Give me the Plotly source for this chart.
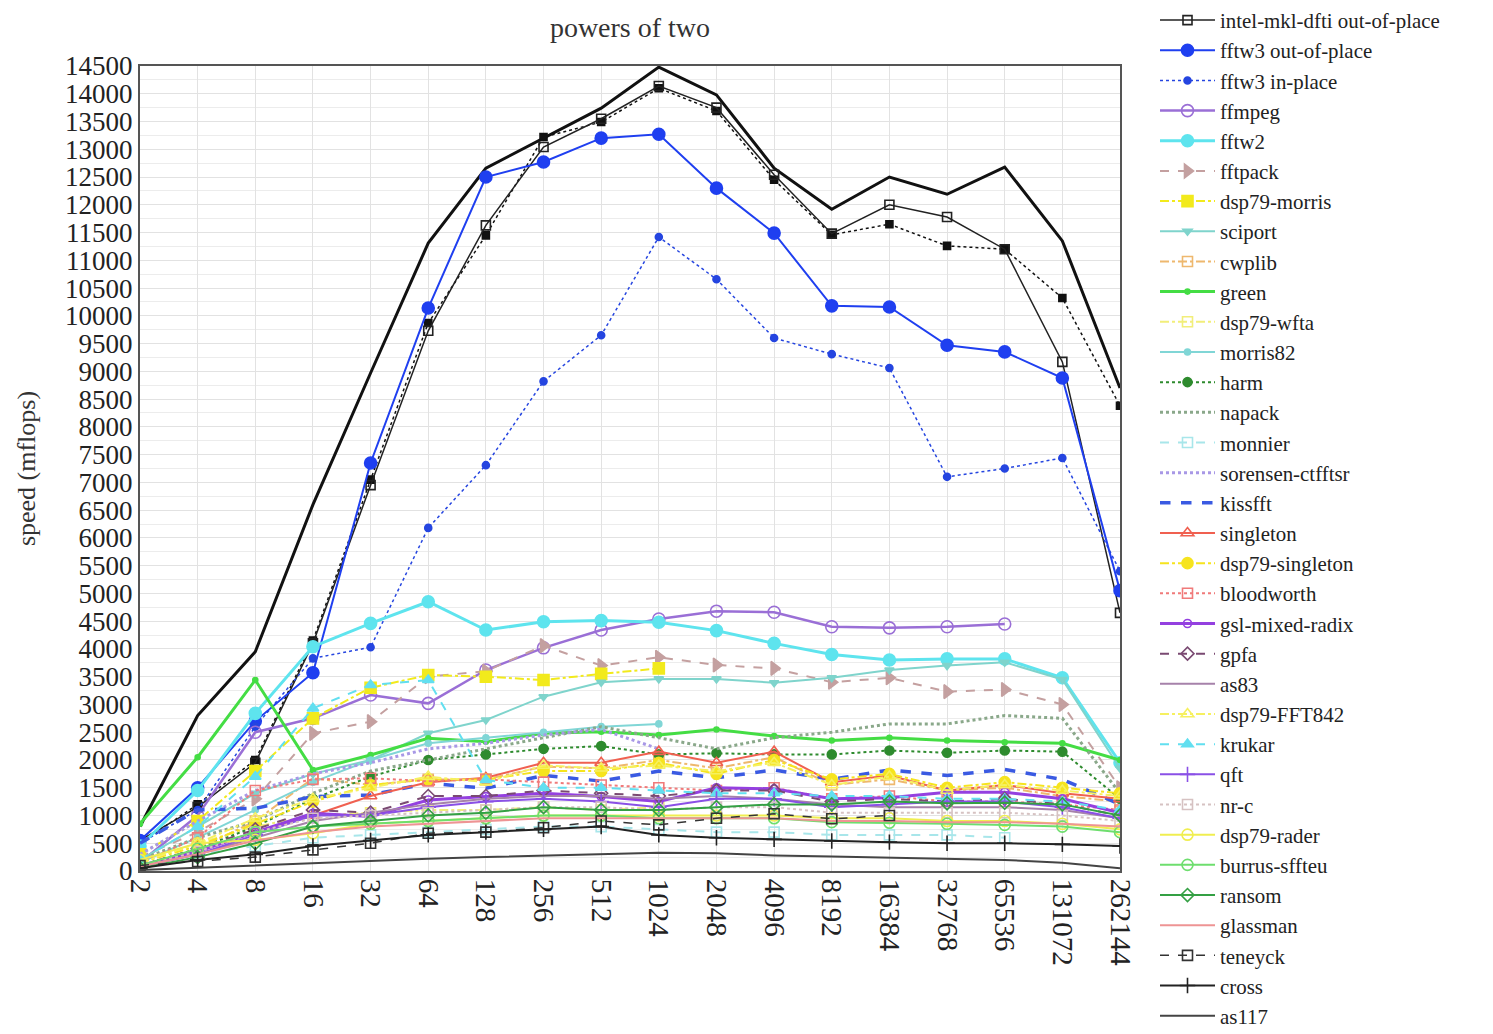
import plotly.graph_objects as go

# FFT sizes (powers of two)
sizes = ["2", "4", "8", "16", "32", "64", "128", "256", "512", "1024", "2048",
         "4096", "8192", "16384", "32768", "65536", "131072", "262144"]

y_ticks = list(range(0, 14501, 500))

# speed in mflops per library
intel_ipps = [800, 2800, 3950, 6600, 8970, 11310, 12660, 13200, 13740, 14480, 13980, 12660, 11920, 12500, 12190, 12680, 11350, 8700]
intel_mkl_in = [500, 1200, 2000, 4150, 7050, 9870, 11450, 13220, 13490, 14100, 13690, 12450, 11460, 11650, 11260, 11200, 10320, 8380]
intel_mkl_out = [550, 1150, 1950, 4100, 6950, 9730, 11630, 13040, 13550, 14140, 13750, 12540, 11480, 12000, 11780, 11200, 9170, 4650]
fftw3_out = [550, 1500, 2700, 3570, 7350, 10140, 12500, 12770, 13200, 13270, 12300, 11490, 10180, 10160, 9470, 9350, 8880, 5050]
fftw3_in = [500, 1100, 2600, 3830, 4030, 6180, 7310, 8820, 9650, 11420, 10660, 9600, 9310, 9060, 7100, 7250, 7440, 5400]
ffmpeg = [150, 1000, 2500, 2750, 3170, 3020, 3620, 4020, 4340, 4540, 4680, 4660, 4400, 4380, 4400, 4450, None, None]
fftw2 = [450, 1450, 2840, 4040, 4460, 4850, 4340, 4490, 4510, 4480, 4330, 4100, 3900, 3800, 3820, 3820, 3480, 1950]
fftpack = [250, 700, 1300, 2480, 2690, 3500, 3600, 4060, 3700, 3850, 3710, 3650, 3400, 3480, 3230, 3270, 3000, 1500]
dsp79_morris = [300, 900, 1800, 2750, 3300, 3530, 3500, 3440, 3550, 3650, None, None, None, None, None, None, None, None]
sciport = [200, 800, 1400, 1750, 2000, 2480, 2720, 3140, 3400, 3460, 3460, 3390, 3480, 3620, 3700, 3760, 3450, 1850]
cwplib = [100, 400, 900, 1670, 1550, 1650, 1650, 1880, 1850, 2000, 1850, 2050, 1550, 1650, 1450, 1500, 1350, 1250]
green = [850, 2050, 3440, 1820, 2090, 2390, 2330, 2480, 2510, 2450, 2550, 2430, 2350, 2400, 2350, 2320, 2300, 2000]
dsp79_wfta = [150, 500, 800, 1000, 1050, 1100, 1100, 1150, 1100, 1150, None, None, None, None, None, None, None, None]
morris82 = [150, 600, 1100, 1600, 2000, 2300, 2400, 2500, 2600, 2650, None, None, None, None, None, None, None, None]
harm = [100, 400, 800, 1300, 1700, 2000, 2100, 2200, 2250, 2100, 2120, 2100, 2100, 2170, 2130, 2170, 2150, 1300]
napack = [200, 600, 900, 1400, 1800, 2000, 2200, 2400, 2600, 2400, 2200, 2400, 2500, 2650, 2650, 2800, 2750, 1400]
monnier = [100, 300, 450, 600, 650, 700, 750, 800, 800, 750, 700, 700, 650, 650, 650, 600, None, None]
sorensen = [300, 900, 1450, 1750, 1950, 2200, 2300, 2450, 2550, 2200, None, None, None, None, None, None, None, None]
kissfft = [500, 1100, 1130, 1340, 1370, 1580, 1490, 1720, 1620, 1800, 1680, 1820, 1650, 1820, 1720, 1830, 1650, 1200]
singleton = [100, 350, 700, 1000, 1350, 1600, 1680, 1950, 1950, 2150, 1950, 2150, 1600, 1720, 1450, 1550, 1400, 1300]
dsp79_singleton = [150, 450, 850, 1250, 1550, 1650, 1650, 1800, 1800, 1950, 1750, 2000, 1650, 1750, 1500, 1600, 1500, 1400]
bloodworth = [150, 600, 1450, 1650, 1670, 1620, 1650, 1600, 1550, 1500, 1450, 1500, 1300, 1350, 1250, 1250, 1200, 1100]
gsl_mixed_radix = [100, 350, 700, 1040, 980, 1280, 1340, 1400, 1340, 1250, 1500, 1480, 1300, 1320, 1420, 1420, 1300, 1050]
gpfa = [100, 400, 750, 1100, 1050, 1350, 1350, 1450, 1400, 1350, 1450, 1450, 1250, 1300, 1250, 1300, 1200, 1000]
as83 = [80, 300, 600, 900, 1050, 1200, 1300, 1350, 1350, 1300, 1350, 1300, 1200, 1150, 1150, 1150, 1100, 950]
dsp79_fft842 = [150, 500, 950, 1300, 1500, 1700, 1600, 1900, 1850, 1900, 1800, 1950, 1550, 1700, 1450, 1550, 1450, 1350]
krukar = [200, 800, 1700, 2930, 3350, 3440, 1640, 1500, 1500, 1450, 1400, 1400, 1350, 1350, 1300, 1300, 1250, 1100]
qft = [80, 300, 650, 1000, 1000, 1150, 1250, 1300, 1250, 1150, 1300, 1300, 1150, 1200, 1250, 1250, 1150, 950]
nr_c = [100, 350, 700, 950, 1000, 1050, 1100, 1150, 1150, 1100, 1150, 1150, 1050, 1050, 1050, 1050, 1000, 900]
dsp79_rader = [200, 500, 560, 680, 850, 900, 950, 1000, 1000, 1000, 1000, 1000, 950, 950, 900, 900, 850, 750]
burrus_sffteu = [100, 400, 700, 800, 850, 900, 950, 1000, 1000, 950, 950, 950, 880, 870, 850, 830, 800, 700]
ransom = [50, 250, 500, 800, 900, 1000, 1050, 1150, 1100, 1100, 1150, 1200, 1200, 1250, 1220, 1230, 1200, 1000]
glassman = [80, 300, 550, 700, 800, 850, 900, 950, 950, 950, 950, 950, 900, 900, 880, 880, 850, 800]
teneyck = [100, 170, 250, 380, 500, 680, 700, 780, 900, 830, 950, 1030, 940, 1000, None, None, None, None]
cross = [50, 200, 300, 450, 550, 650, 700, 750, 800, 650, 600, 570, 540, 520, 500, 500, 480, 450]
as117 = [20, 60, 100, 150, 180, 220, 250, 280, 300, 330, 320, 280, 260, 240, 230, 200, 150, 50]

# (name, values, color, dash, line width, marker symbol, marker size, in legend)
series = [
    ("intel-ipps", intel_ipps, "#111111", "solid", 3, None, 0, False),
    ("intel-mkl-dfti in-place", intel_mkl_in, "#111111", "dot", 1.5, "square", 7, False),
    ("intel-mkl-dfti out-of-place", intel_mkl_out, "#222222", "solid", 1.5, "square-open", 9, True),
    ("fftw3 out-of-place", fftw3_out, "#1f3ff0", "solid", 2, "circle", 12, True),
    ("fftw3 in-place", fftw3_in, "#2545e0", "dot", 1.5, "circle", 7, True),
    ("ffmpeg", ffmpeg, "#9a6fd6", "solid", 2.5, "circle-open", 12, True),
    ("fftw2", fftw2, "#5ee4ee", "solid", 3, "circle", 12, True),
    ("fftpack", fftpack, "#c4a0a0", "dash", 2, "triangle-right", 12, True),
    ("dsp79-morris", dsp79_morris, "#f2ea1c", "dashdot", 2, "square", 11, True),
    ("sciport", sciport, "#7fd4cc", "solid", 2, "triangle-down", 8, True),
    ("cwplib", cwplib, "#eeb86e", "dashdot", 2, "square-open", 10, True),
    ("green", green, "#44dd44", "solid", 3, "circle", 5, True),
    ("dsp79-wfta", dsp79_wfta, "#f2ee7a", "dashdot", 2, "square-open", 10, True),
    ("morris82", morris82, "#80d6d6", "solid", 2, "circle", 6, True),
    ("harm", harm, "#2e8b2e", "dot", 2, "circle", 9, True),
    ("napack", napack, "#8aa88a", "dot", 3, None, 0, True),
    ("monnier", monnier, "#a8e6ea", "dash", 2, "square-open", 10, True),
    ("sorensen-ctfftsr", sorensen, "#a898e6", "dot", 3, None, 0, True),
    ("kissfft", kissfft, "#3a5ae2", "dash", 3.5, None, 0, True),
    ("singleton", singleton, "#f06050", "solid", 2, "triangle-up-open", 11, True),
    ("dsp79-singleton", dsp79_singleton, "#f6e41e", "dashdot", 2, "circle", 11, True),
    ("bloodworth", bloodworth, "#f07a7a", "dot", 2, "square-open", 10, True),
    ("gsl-mixed-radix", gsl_mixed_radix, "#9440e0", "solid", 3, "circle-open", 8, True),
    ("gpfa", gpfa, "#7a4a72", "dash", 2, "diamond-open", 10, True),
    ("as83", as83, "#a682aa", "solid", 2, None, 0, True),
    ("dsp79-FFT842", dsp79_fft842, "#f6f060", "dashdot", 2, "triangle-up-open", 11, True),
    ("krukar", krukar, "#62dff0", "dash", 2, "triangle-up", 10, True),
    ("qft", qft, "#8a50e6", "solid", 2, "cross-thin", 11, True),
    ("nr-c", nr_c, "#d6c2c2", "dot", 2, "square-open", 10, True),
    ("dsp79-rader", dsp79_rader, "#f0ee50", "solid", 2, "circle-open", 11, True),
    ("burrus-sffteu", burrus_sffteu, "#6ede6e", "solid", 2, "circle-open", 11, True),
    ("ransom", ransom, "#34a044", "solid", 2, "diamond-open", 10, True),
    ("glassman", glassman, "#ee9494", "solid", 2, None, 0, True),
    ("teneyck", teneyck, "#333333", "dash", 1.5, "square-open", 10, True),
    ("cross", cross, "#222222", "solid", 2, "cross-thin", 11, True),
    ("as117", as117, "#444444", "solid", 2, None, 0, True),
]

fig = go.Figure()
for name, vals, color, dash, lw, sym, msize, in_legend in series:
    if sym is None:
        mode = "lines"
        marker = None
    else:
        mode = "lines+markers"
        marker = dict(symbol=sym, size=msize, color=color,
                      line=dict(width=1.6, color=color))
    fig.add_trace(go.Scatter(
        x=sizes, y=vals, name=name, mode=mode,
        line=dict(color=color, dash=dash, width=lw),
        marker=marker, showlegend=in_legend, connectgaps=False,
    ))

serif = "Liberation Serif, Times New Roman, serif"

fig.update_layout(
    width=1493, height=1034,
    margin=dict(l=140, r=373, t=66, b=163),
    paper_bgcolor="white", plot_bgcolor="white",
    font=dict(family=serif, color="#222222"),
    title=dict(text="powers of two", x=0.5, xref="paper", xanchor="center",
               y=1 - 27 / 1034, yref="container", yanchor="middle",
               font=dict(family=serif, size=28, color="#333333")),
    legend=dict(x=1155 / 1493, xref="container", xanchor="left",
                y=1, yref="container", yanchor="top",
                font=dict(family=serif, size=20.9, color="#222222"),
                itemwidth=55, maxheight=1200, bgcolor="rgba(0,0,0,0)",
                traceorder="normal"),
    showlegend=True,
)

fig.update_xaxes(
    type="category", categoryorder="array", categoryarray=sizes,
    range=[0, len(sizes) - 1], tickangle=90,
    tickfont=dict(family=serif, size=29, color="#222222"),
    showgrid=True, gridcolor="#e2e2e2", gridwidth=1,
    showline=True, linecolor="#555555", linewidth=2, mirror=True,
    ticks="", zeroline=False,
)
fig.update_yaxes(
    range=[0, 14500], tickmode="array", tickvals=y_ticks,
    ticktext=[str(v) for v in y_ticks],
    tickfont=dict(family=serif, size=27, color="#222222"),
    showgrid=True, gridcolor="#e2e2e2", gridwidth=1,
    minor=dict(dtick=250, showgrid=True, gridcolor="#ececec", gridwidth=1),
    showline=True, linecolor="#555555", linewidth=2, mirror=True,
    ticks="", zeroline=False,
    title=dict(text="speed (mflops)", standoff=22,
               font=dict(family=serif, size=26, color="#333333")),
)

fig.write_html("out.html")
